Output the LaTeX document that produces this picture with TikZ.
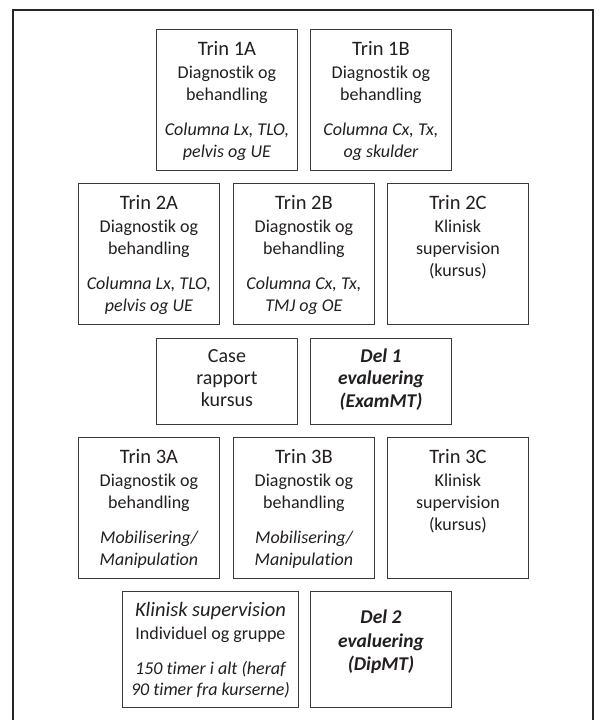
\documentclass[tikz,border=0pt]{standalone}
\usepackage{fontspec}
\setmainfont{Carlito}[Ligatures={NoCommon}]
\definecolor{ink}{HTML}{231F20}
\definecolor{edge}{HTML}{3A3A3A}
\definecolor{framec}{HTML}{262626}
\newcommand\ttlsize{\fontsize{20.5}{24}\selectfont}
\newcommand\bdysize{\fontsize{18}{21}\selectfont}
\newcommand\ABbox[6]{%
  \node[stepbox] (#1) at (#2,#3) {};
  \node[ttl] (#1t) at ([yshift=-26pt]#1.north) {#4};
  \node[bdy] (#1d) at ([yshift=-49.5pt]#1.north) {Diagnostik og};
  \node[bdy] (#1b) at ([yshift=-71pt]#1.north) {behandling};
  \node[bdy,font=\bdysize\itshape] (#1i) at ([yshift=-106pt]#1.north) {#5};
  \node[bdy,font=\bdysize\itshape] (#1j) at ([yshift=-128pt]#1.north) {#6};
}
\newcommand\Cbox[4]{%
  \node[stepbox] (#1) at (#2,#3) {};
  \node[ttl] (#1t) at ([yshift=-26pt]#1.north) {#4};
  \node[bdy] (#1k) at ([yshift=-49.5pt]#1.north) {Klinisk};
  \node[bdy] (#1s) at ([yshift=-71pt]#1.north) {supervision};
  \node[bdy] (#1c) at ([yshift=-93pt]#1.north) {(kursus)};
}
\begin{document}
\begin{tikzpicture}[x=1pt,y=-1pt,
  stepbox/.style={draw=edge, line width=0.9pt, minimum width=141pt, minimum height=141pt,
    inner sep=0pt, anchor=north west},
  ttl/.style={anchor=base, inner sep=0pt, text=ink, font=\ttlsize},
  bdy/.style={anchor=base, inner sep=0pt, text=ink, font=\bdysize},
  evl/.style={anchor=base, inner sep=0pt, text=ink, font=\fontsize{19.5}{23}\selectfont\bfseries\itshape},
]
\useasboundingbox (0,0) rectangle (600,720);
\fill[white] (0,0) rectangle (600,720);
\draw[framec, line width=2.4pt] (13,740) -- (13,10) -- (593,10) -- (593,740);

% Row 1
\ABbox{b1a}{156}{29}{Trin 1A}{Columna Lx, TLO,}{pelvis og UE}
\ABbox{b1b}{310}{29}{Trin 1B}{Columna Cx, Tx,}{og skulder}

% Row 2
\ABbox{b2a}{78}{183}{Trin 2A}{Columna Lx, TLO,}{pelvis og UE}
\ABbox{b2b}{233}{183}{Trin 2B}{Columna Cx, Tx,}{TMJ og OE}
\Cbox{b2c}{387}{183}{Trin 2C}

% Row 3
\node[stepbox, minimum height=86pt] (case) at (156,338) {};
\node[ttl, font=\fontsize{20}{24}\selectfont] (caset1) at ([yshift=-24pt]case.north) {Case};
\node[ttl, font=\fontsize{20}{24}\selectfont] (caset2) at ([yshift=-46.5pt]case.north) {rapport};
\node[ttl, font=\fontsize{20}{24}\selectfont] (caset3) at ([yshift=-68.5pt]case.north) {kursus};
\node[stepbox, minimum height=86pt] (del1) at (310,338) {};
\node[evl] (del1t1) at ([yshift=-24pt]del1.north) {Del 1};
\node[evl] (del1t2) at ([yshift=-46.5pt]del1.north) {evaluering};
\node[evl] (del1t3) at ([yshift=-69pt]del1.north) {(ExamMT)};

% Row 4
\ABbox{b3a}{78}{437}{Trin 3A}{Mobilisering/}{Manipulation}
\ABbox{b3b}{233}{437}{Trin 3B}{Mobilisering/}{Manipulation}
\Cbox{b3c}{387}{437}{Trin 3C}

% Row 5
\node[stepbox, minimum width=176pt, minimum height=116pt] (kl) at (122,591) {};
\node[ttl, font=\ttlsize\itshape] (klt) at ([yshift=-25.5pt]kl.north) {Klinisk supervision};
\node[bdy] (kli) at ([yshift=-48pt]kl.north) {Individuel og gruppe};
\node[bdy, font=\bdysize\itshape] (klh1) at ([yshift=-83pt]kl.north) {150 timer i alt (heraf};
\node[bdy, font=\bdysize\itshape] (klh2) at ([yshift=-104.5pt]kl.north) {90 timer fra kurserne)};
\node[stepbox, minimum height=116pt] (del2) at (310,591) {};
\node[evl] (del2t1) at ([yshift=-32pt]del2.north) {Del 2};
\node[evl] (del2t2) at ([yshift=-56pt]del2.north) {evaluering};
\node[evl] (del2t3) at ([yshift=-79pt]del2.north) {(DipMT)};
\end{tikzpicture}
\end{document}
